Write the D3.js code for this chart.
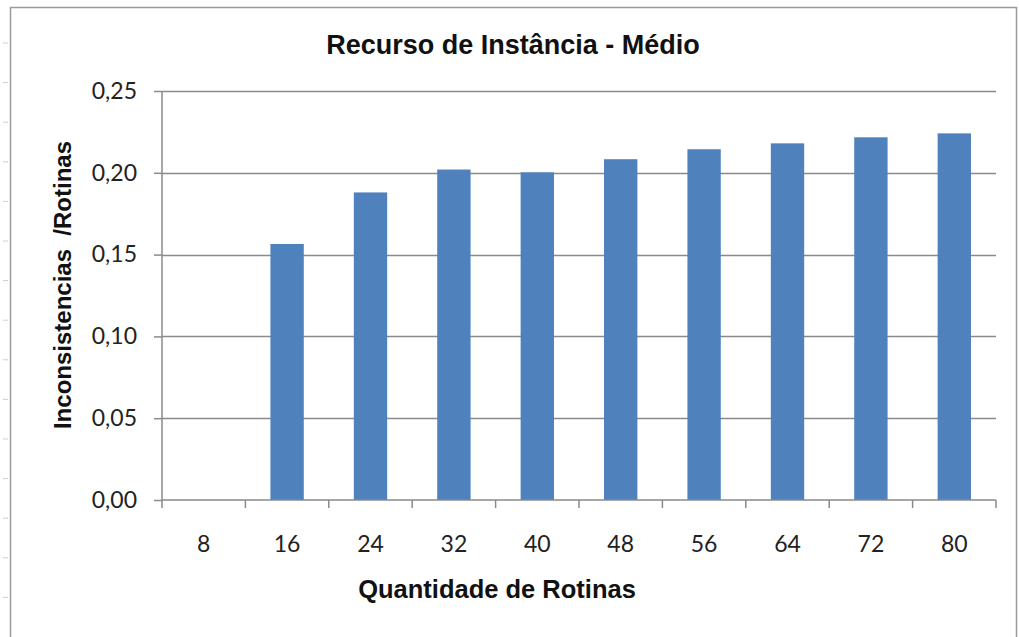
<!DOCTYPE html>
<html>
<head>
<meta charset="utf-8">
<script src="https://cdn.jsdelivr.net/npm/d3@7"></script>
<style>
  body { margin: 0; background: #fff; }
  svg { display: block; }
</style>
</head>
<body>
<svg width="1019" height="637"></svg>
<script>
const categories = ["8", "16", "24", "32", "40", "48", "56", "64", "72", "80"];
const values = [0, 0.1565, 0.188, 0.202, 0.2003, 0.2083, 0.2144, 0.218, 0.2217, 0.2241];
const yTicks = [0, 0.05, 0.1, 0.15, 0.2, 0.25];

const title = "Recurso de Instância - Médio";
const xTitle = "Quantidade de Rotinas";
const yTitle = "Inconsistencias  /Rotinas";

main();

function main() {
  const canvas = d3.select("svg");
  const height = 637;
  const plotLeft = 162;
  const plotRight = 996;
  const plotTop = 91;
  const plotBottom = 500;

  // chart area frame (partly cut by the screenshot)
  canvas
    .append("rect")
    .attr("x", 10.5)
    .attr("y", 7.5)
    .attr("width", 1006)
    .attr("height", 700)
    .attr("fill", "none")
    .attr("stroke", "#9a9a9a")
    .attr("stroke-width", 1.5);

  // little row marks on the left edge
  for (let y = 43; y < height; y += 39.6) {
    canvas
      .append("line")
      .attr("x1", 3)
      .attr("x2", 8)
      .attr("y1", y)
      .attr("y2", y)
      .attr("stroke", "#cfcfcf");
  }

  const xScale = d3
    .scaleBand()
    .domain(categories)
    .range([plotLeft, plotRight])
    .paddingInner(0.6)
    .paddingOuter(0.3);

  const yScale = d3
    .scaleLinear()
    .domain([0, 0.25])
    .range([plotBottom, plotTop]);

  // gridlines
  canvas
    .append("g")
    .selectAll("line")
    .data(yTicks.slice(1))
    .join("line")
    .attr("x1", plotLeft)
    .attr("x2", plotRight)
    .attr("y1", (d) => Math.round(yScale(d)) + 0.5)
    .attr("y2", (d) => Math.round(yScale(d)) + 0.5)
    .attr("stroke", "#8a8a8a")
    .attr("stroke-width", 1.5);

  // bars
  canvas
    .append("g")
    .selectAll("rect")
    .data(values)
    .join("rect")
    .attr("x", (d, i) => xScale(categories[i]))
    .attr("width", xScale.bandwidth())
    .attr("y", (d) => yScale(d))
    .attr("height", (d) => plotBottom - yScale(d))
    .attr("fill", "#4f81bd");

  // y axis
  const yAxis = d3
    .axisLeft(yScale)
    .tickValues(yTicks)
    .tickSize(8)
    .tickPadding(17)
    .tickFormat((d) => d3.format(".2f")(d).replace(".", ","));

  const gy = canvas
    .append("g")
    .attr("transform", `translate(${plotLeft}, 0)`)
    .call(yAxis);
  gy.select(".domain").remove();
  gy.selectAll("line").attr("stroke", "#8a8a8a").attr("stroke-width", 1.5);
  gy.selectAll("text")
    .attr("font-family", "Lato, 'Open Sans', sans-serif")
    .attr("font-size", 23)
    .attr("fill", "#222");

  canvas
    .append("line")
    .attr("x1", plotLeft)
    .attr("x2", plotLeft)
    .attr("y1", plotTop)
    .attr("y2", plotBottom)
    .attr("stroke", "#8a8a8a")
    .attr("stroke-width", 1.5);

  // x axis
  const xAxis = d3.axisBottom(xScale).tickSize(0).tickPadding(36);
  const gx = canvas
    .append("g")
    .attr("transform", `translate(0, ${plotBottom})`)
    .call(xAxis);
  gx.select(".domain").remove();
  gx.selectAll("text")
    .attr("font-family", "Lato, 'Open Sans', sans-serif")
    .attr("font-size", 23)
    .attr("fill", "#222");

  canvas
    .append("line")
    .attr("x1", plotLeft)
    .attr("x2", plotRight)
    .attr("y1", plotBottom)
    .attr("y2", plotBottom)
    .attr("stroke", "#8a8a8a")
    .attr("stroke-width", 1.5);

  // tick marks between categories
  const bounds = d3.range(categories.length + 1).map((i) => plotLeft + i * (plotRight - plotLeft) / categories.length);
  canvas
    .append("g")
    .selectAll("line")
    .data(bounds)
    .join("line")
    .attr("x1", (d) => d)
    .attr("x2", (d) => d)
    .attr("y1", plotBottom)
    .attr("y2", plotBottom + 8)
    .attr("stroke", "#8a8a8a")
    .attr("stroke-width", 1.5);

  // titles
  canvas
    .append("text")
    .text(title)
    .attr("x", 513)
    .attr("y", 54)
    .attr("text-anchor", "middle")
    .attr("font-family", "'Liberation Sans', Arial, sans-serif")
    .attr("font-weight", "bold")
    .attr("font-size", 27)
    .attr("fill", "#111");

  canvas
    .append("text")
    .text(xTitle)
    .attr("x", 497)
    .attr("y", 598)
    .attr("text-anchor", "middle")
    .attr("font-family", "'Liberation Sans', Arial, sans-serif")
    .attr("font-weight", "bold")
    .attr("font-size", 25.5)
    .attr("fill", "#111");

  canvas
    .append("text")
    .text(yTitle)
    .attr("x", 0)
    .attr("y", 0)
    .attr("text-anchor", "middle")
    .attr("xml:space", "preserve")
    .attr("transform", "translate(71, 285) rotate(-90)")
    .attr("font-family", "'Liberation Sans', Arial, sans-serif")
    .attr("font-weight", "bold")
    .attr("font-size", 24)
    .attr("fill", "#111");
}
</script>
</body>
</html>
